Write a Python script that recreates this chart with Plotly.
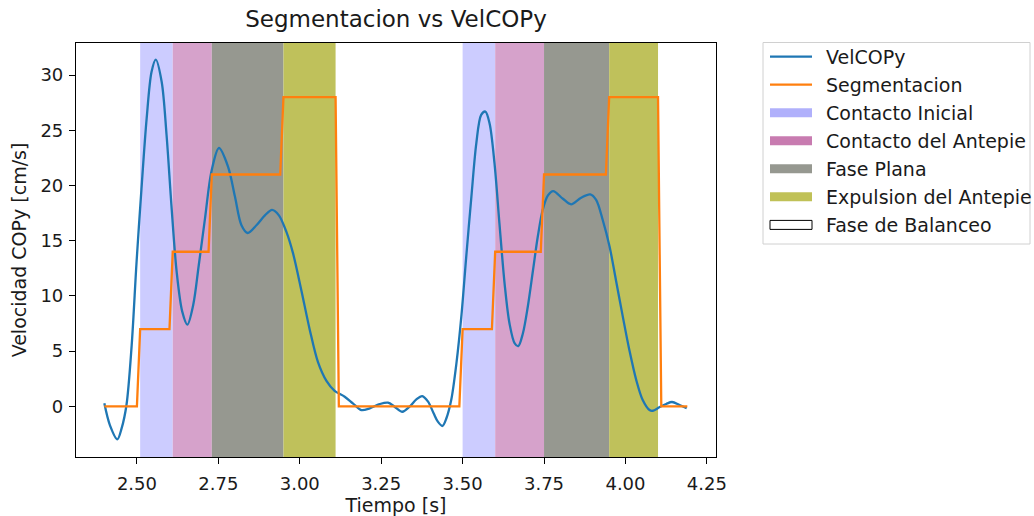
import plotly.graph_objects as go

# VelCOPy samples (time in s, velocity in cm/s)
time_s = [2.400, 2.417, 2.440, 2.453, 2.468, 2.484, 2.499, 2.514, 2.530, 2.545,
          2.558, 2.576, 2.591, 2.606, 2.622, 2.639, 2.655, 2.673, 2.690, 2.709,
          2.729, 2.752, 2.780, 2.801, 2.821, 2.840, 2.867, 2.893, 2.915, 2.936,
          2.959, 2.979, 3.005, 3.031, 3.056, 3.082, 3.107, 3.138, 3.163, 3.189,
          3.215, 3.245, 3.271, 3.291, 3.315, 3.337, 3.358, 3.376, 3.394, 3.411,
          3.424, 3.438, 3.450, 3.465, 3.481, 3.496, 3.511, 3.527, 3.542, 3.557,
          3.570, 3.583, 3.598, 3.613, 3.629, 3.644, 3.660, 3.671, 3.685, 3.700,
          3.716, 3.731, 3.746, 3.762, 3.778, 3.808, 3.833, 3.864, 3.892, 3.910,
          3.930, 3.951, 3.971, 3.992, 4.012, 4.033, 4.053, 4.074, 4.084, 4.104,
          4.125, 4.143, 4.166, 4.188]
velcopy = [0.27, -1.7, -2.99, -2.0, 0.12, 5.55, 13.1, 19.7, 26.1, 30.3,
           31.4, 29.4, 24.6, 18.2, 12.2, 8.6, 7.4, 9.2, 12.8, 17.0,
           21.3, 23.4, 21.7, 19.0, 16.4, 15.7, 16.4, 17.3, 17.8, 17.3,
           15.8, 13.9, 10.5, 6.9, 4.0, 2.3, 1.4, 0.87, 0.27, -0.34,
           -0.18, 0.2, 0.33, -0.03, -0.49, -0.03, 0.63, 0.93, 0.42, -0.63,
           -1.39, -1.78, -1.1, 0.57, 3.9, 8.1, 13.5, 19.0, 23.8, 26.4,
           26.7, 25.6, 22.0, 16.6, 11.1, 7.5, 5.7, 5.46, 6.6, 9.0,
           12.3, 15.4, 17.8, 19.1, 19.5, 18.8, 18.3, 18.9, 19.2, 18.7,
           16.9, 14.5, 11.4, 8.1, 5.1, 2.4, 0.57, -0.34, -0.4, -0.09,
           0.21, 0.39, 0.12, -0.18]

# Segmentation levels (sampled at 100 Hz, transitions between consecutive samples)
seg_time = [2.40, 2.50, 2.51, 2.60, 2.61, 2.72, 2.73, 2.94, 2.95, 3.11, 3.12,
            3.49, 3.50, 3.59, 3.60, 3.74, 3.75, 3.94, 3.95, 4.10, 4.11, 4.19]
seg_level = [0, 0, 7, 7, 14, 14, 21, 21, 28, 28, 0,
             0, 7, 7, 14, 14, 21, 21, 28, 28, 0, 0]

# Gait phases: one span per stride
phase_names = ["Contacto Inicial", "Contacto del Antepie", "Fase Plana", "Expulsion del Antepie"]
phase_start = [[2.51, 3.50], [2.61, 3.60], [2.73, 3.75], [2.95, 3.95]]
phase_end = [[2.61, 3.60], [2.73, 3.75], [2.95, 3.95], [3.11, 4.10]]
phase_colors = ["#ccccff", "#d6a2cb", "#969890", "#bfc15b"]
phase_legend_colors = ["#b0b0fb", "#c87bb0", "#969890", "#c0c157"]
swing_name = "Fase de Balanceo"

x_ticks = [2.50, 2.75, 3.00, 3.25, 3.50, 3.75, 4.00, 4.25]
y_ticks = [0, 5, 10, 15, 20, 25, 30]

FONT = "DejaVu Sans"
TEXT = "#1a1a1a"
BLUE = "#1f77b4"
ORANGE = "#ff7f0e"

W, H = 1034, 516
ML, MR, MT, MB = 76, 318, 43, 59
PW, PH = W - ML - MR, H - MT - MB

fig = go.Figure()

fig.add_trace(go.Scatter(x=time_s, y=velcopy, mode="lines", name="VelCOPy",
                         line=dict(color=BLUE, width=2.3, shape="spline", smoothing=0.9)))
fig.add_trace(go.Scatter(x=seg_time, y=seg_level, mode="lines", name="Segmentacion",
                         line=dict(color=ORANGE, width=2.3)))


def px_x(p):
    return (p - ML) / PW


def px_y(p):
    return (MT + PH - p) / PH


shapes = []
# shaded phase spans on the data axis
for starts, ends, color in zip(phase_start, phase_end, phase_colors):
    for s, e in zip(starts, ends):
        shapes.append(dict(type="rect", xref="x", yref="paper", x0=s, x1=e, y0=0, y1=1,
                           fillcolor=color, line=dict(width=0), layer="below"))

# legend box drawn in paper coordinates
shapes.append(dict(type="rect", xref="paper", yref="paper",
                   x0=px_x(763), x1=px_x(1030), y0=px_y(244), y1=px_y(42.5),
                   line=dict(color="#d0d0d0", width=1), fillcolor="white", layer="above"))
annotations = []
entries = [("line", BLUE, "VelCOPy"), ("line", ORANGE, "Segmentacion")]
entries += [("patch", c, n) for c, n in zip(phase_legend_colors, phase_names)]
entries += [("edge", "white", swing_name)]
row0, pitch = 56.6, 28.05
for i, (kind, color, label) in enumerate(entries):
    yc = row0 + i * pitch
    if kind == "line":
        shapes.append(dict(type="line", xref="paper", yref="paper",
                           x0=px_x(770), x1=px_x(812), y0=px_y(yc), y1=px_y(yc),
                           line=dict(color=color, width=2.3), layer="above"))
    else:
        edge = dict(color="black", width=1) if kind == "edge" else dict(width=0)
        shapes.append(dict(type="rect", xref="paper", yref="paper",
                           x0=px_x(770), x1=px_x(812), y0=px_y(yc + 4.5), y1=px_y(yc - 4.5),
                           fillcolor=color, line=edge, layer="above"))
    annotations.append(dict(xref="paper", yref="paper", x=px_x(824), y=px_y(yc),
                            xanchor="left", yanchor="middle", showarrow=False,
                            text=label, font=dict(family=FONT, size=19, color=TEXT)))

fig.update_layout(
    width=W, height=H,
    margin=dict(l=ML, r=MR, t=MT, b=MB, pad=0, autoexpand=False),
    paper_bgcolor="white", plot_bgcolor="white",
    showlegend=False,
    font=dict(family=FONT, color=TEXT),
    title=dict(text="Segmentacion vs VelCOPy", x=(ML + PW / 2) / W,
               xanchor="center", xref="container", yref="container",
               y=1 - 19 / H, yanchor="middle", font=dict(family=FONT, size=23, color=TEXT)),
    shapes=shapes, annotations=annotations,
)

axis_common = dict(showgrid=False, zeroline=False, showline=True, mirror=True,
                   linecolor="black", linewidth=1.2, ticks="outside", ticklen=6,
                   tickwidth=1.2, tickcolor="black", automargin=False,
                   tickfont=dict(family=FONT, size=18, color=TEXT))
fig.update_xaxes(range=[2.313, 4.278], tickvals=x_ticks,
                 ticktext=[f"{v:.2f}" for v in x_ticks], ticklabelstandoff=4,
                 title=dict(text="Tiempo [s]", font=dict(family=FONT, size=19, color=TEXT), standoff=6),
                 **axis_common)
fig.update_yaxes(range=[-4.59, 32.91], tickvals=y_ticks, ticklabelstandoff=2,
                 title=dict(text="Velocidad COPy [cm/s]", font=dict(family=FONT, size=19, color=TEXT), standoff=8),
                 **axis_common)

fig.write_html("out.html")
